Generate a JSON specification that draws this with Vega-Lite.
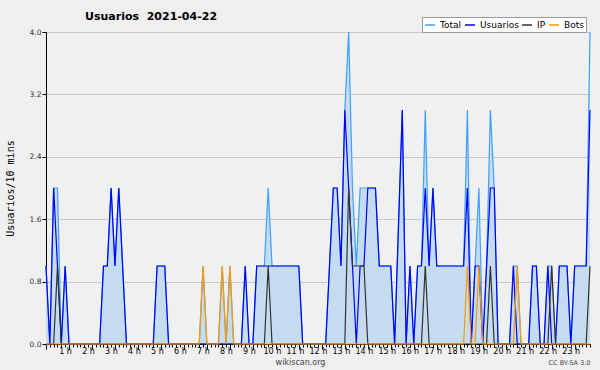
{
"$schema": "https://vega.github.io/schema/vega-lite/v6.json",
"width": 544, "height": 312,
"autosize": {"type": "none"},
"padding": {"left": 46, "top": 32, "right": 10, "bottom": 26},
"background": "#efefef",
"title": {"text": "Usuarios\u00a0 2021-04-22", "frame": "group", "anchor": "start", "dx": 39, "offset": -5, "font": "DejaVu Sans", "fontSize": 11, "fontWeight": "bold", "color": "#000000"},
"config": {"view": {"fill": "#eff0f2", "stroke": null}},
"data": {"values": [
{"i":0,"Total":1,"Usuarios":1,"IP":0,"Bots":0},
{"i":1,"Total":0,"Usuarios":0,"IP":0,"Bots":0},
{"i":2,"Total":2,"Usuarios":2,"IP":0,"Bots":0},
{"i":3,"Total":2,"Usuarios":1,"IP":1,"Bots":0},
{"i":4,"Total":0,"Usuarios":0,"IP":0,"Bots":0},
{"i":5,"Total":1,"Usuarios":1,"IP":0,"Bots":0},
{"i":6,"Total":0,"Usuarios":0,"IP":0,"Bots":0},
{"i":7,"Total":0,"Usuarios":0,"IP":0,"Bots":0},
{"i":8,"Total":0,"Usuarios":0,"IP":0,"Bots":0},
{"i":9,"Total":0,"Usuarios":0,"IP":0,"Bots":0},
{"i":10,"Total":0,"Usuarios":0,"IP":0,"Bots":0},
{"i":11,"Total":0,"Usuarios":0,"IP":0,"Bots":0},
{"i":12,"Total":0,"Usuarios":0,"IP":0,"Bots":0},
{"i":13,"Total":0,"Usuarios":0,"IP":0,"Bots":0},
{"i":14,"Total":0,"Usuarios":0,"IP":0,"Bots":0},
{"i":15,"Total":1,"Usuarios":1,"IP":0,"Bots":0},
{"i":16,"Total":1,"Usuarios":1,"IP":0,"Bots":0},
{"i":17,"Total":2,"Usuarios":2,"IP":0,"Bots":0},
{"i":18,"Total":1,"Usuarios":1,"IP":0,"Bots":0},
{"i":19,"Total":2,"Usuarios":2,"IP":0,"Bots":0},
{"i":20,"Total":1,"Usuarios":1,"IP":0,"Bots":0},
{"i":21,"Total":0,"Usuarios":0,"IP":0,"Bots":0},
{"i":22,"Total":0,"Usuarios":0,"IP":0,"Bots":0},
{"i":23,"Total":0,"Usuarios":0,"IP":0,"Bots":0},
{"i":24,"Total":0,"Usuarios":0,"IP":0,"Bots":0},
{"i":25,"Total":0,"Usuarios":0,"IP":0,"Bots":0},
{"i":26,"Total":0,"Usuarios":0,"IP":0,"Bots":0},
{"i":27,"Total":0,"Usuarios":0,"IP":0,"Bots":0},
{"i":28,"Total":0,"Usuarios":0,"IP":0,"Bots":0},
{"i":29,"Total":1,"Usuarios":1,"IP":0,"Bots":0},
{"i":30,"Total":1,"Usuarios":1,"IP":0,"Bots":0},
{"i":31,"Total":1,"Usuarios":1,"IP":0,"Bots":0},
{"i":32,"Total":0,"Usuarios":0,"IP":0,"Bots":0},
{"i":33,"Total":0,"Usuarios":0,"IP":0,"Bots":0},
{"i":34,"Total":0,"Usuarios":0,"IP":0,"Bots":0},
{"i":35,"Total":0,"Usuarios":0,"IP":0,"Bots":0},
{"i":36,"Total":0,"Usuarios":0,"IP":0,"Bots":0},
{"i":37,"Total":0,"Usuarios":0,"IP":0,"Bots":0},
{"i":38,"Total":0,"Usuarios":0,"IP":0,"Bots":0},
{"i":39,"Total":0,"Usuarios":0,"IP":0,"Bots":0},
{"i":40,"Total":0,"Usuarios":0,"IP":0,"Bots":0},
{"i":41,"Total":1,"Usuarios":0,"IP":0,"Bots":1},
{"i":42,"Total":0,"Usuarios":0,"IP":0,"Bots":0},
{"i":43,"Total":0,"Usuarios":0,"IP":0,"Bots":0},
{"i":44,"Total":0,"Usuarios":0,"IP":0,"Bots":0},
{"i":45,"Total":0,"Usuarios":0,"IP":0,"Bots":0},
{"i":46,"Total":1,"Usuarios":0,"IP":0,"Bots":1},
{"i":47,"Total":0,"Usuarios":0,"IP":0,"Bots":0},
{"i":48,"Total":1,"Usuarios":0,"IP":0,"Bots":1},
{"i":49,"Total":0,"Usuarios":0,"IP":0,"Bots":0},
{"i":50,"Total":0,"Usuarios":0,"IP":0,"Bots":0},
{"i":51,"Total":0,"Usuarios":0,"IP":0,"Bots":0},
{"i":52,"Total":1,"Usuarios":1,"IP":0,"Bots":0},
{"i":53,"Total":0,"Usuarios":0,"IP":0,"Bots":0},
{"i":54,"Total":0,"Usuarios":0,"IP":0,"Bots":0},
{"i":55,"Total":1,"Usuarios":1,"IP":0,"Bots":0},
{"i":56,"Total":1,"Usuarios":1,"IP":0,"Bots":0},
{"i":57,"Total":1,"Usuarios":1,"IP":0,"Bots":0},
{"i":58,"Total":2,"Usuarios":1,"IP":1,"Bots":0},
{"i":59,"Total":1,"Usuarios":1,"IP":0,"Bots":0},
{"i":60,"Total":1,"Usuarios":1,"IP":0,"Bots":0},
{"i":61,"Total":1,"Usuarios":1,"IP":0,"Bots":0},
{"i":62,"Total":1,"Usuarios":1,"IP":0,"Bots":0},
{"i":63,"Total":1,"Usuarios":1,"IP":0,"Bots":0},
{"i":64,"Total":1,"Usuarios":1,"IP":0,"Bots":0},
{"i":65,"Total":1,"Usuarios":1,"IP":0,"Bots":0},
{"i":66,"Total":1,"Usuarios":1,"IP":0,"Bots":0},
{"i":67,"Total":0,"Usuarios":0,"IP":0,"Bots":0},
{"i":68,"Total":0,"Usuarios":0,"IP":0,"Bots":0},
{"i":69,"Total":0,"Usuarios":0,"IP":0,"Bots":0},
{"i":70,"Total":0,"Usuarios":0,"IP":0,"Bots":0},
{"i":71,"Total":0,"Usuarios":0,"IP":0,"Bots":0},
{"i":72,"Total":0,"Usuarios":0,"IP":0,"Bots":0},
{"i":73,"Total":0,"Usuarios":0,"IP":0,"Bots":0},
{"i":74,"Total":1,"Usuarios":1,"IP":0,"Bots":0},
{"i":75,"Total":2,"Usuarios":2,"IP":0,"Bots":0},
{"i":76,"Total":2,"Usuarios":2,"IP":0,"Bots":0},
{"i":77,"Total":1,"Usuarios":1,"IP":0,"Bots":0},
{"i":78,"Total":3,"Usuarios":3,"IP":0,"Bots":0},
{"i":79,"Total":4,"Usuarios":2,"IP":2,"Bots":0},
{"i":80,"Total":2,"Usuarios":1,"IP":1,"Bots":0},
{"i":81,"Total":1,"Usuarios":0,"IP":1,"Bots":0},
{"i":82,"Total":2,"Usuarios":1,"IP":1,"Bots":0},
{"i":83,"Total":2,"Usuarios":1,"IP":1,"Bots":0},
{"i":84,"Total":2,"Usuarios":2,"IP":0,"Bots":0},
{"i":85,"Total":2,"Usuarios":2,"IP":0,"Bots":0},
{"i":86,"Total":2,"Usuarios":2,"IP":0,"Bots":0},
{"i":87,"Total":1,"Usuarios":1,"IP":0,"Bots":0},
{"i":88,"Total":1,"Usuarios":1,"IP":0,"Bots":0},
{"i":89,"Total":1,"Usuarios":1,"IP":0,"Bots":0},
{"i":90,"Total":1,"Usuarios":1,"IP":0,"Bots":0},
{"i":91,"Total":0,"Usuarios":0,"IP":0,"Bots":0},
{"i":92,"Total":1.5,"Usuarios":1.5,"IP":0,"Bots":0},
{"i":93,"Total":3,"Usuarios":3,"IP":0,"Bots":0},
{"i":94,"Total":0,"Usuarios":0,"IP":0,"Bots":0},
{"i":95,"Total":1,"Usuarios":1,"IP":0,"Bots":0},
{"i":96,"Total":0,"Usuarios":0,"IP":0,"Bots":0},
{"i":97,"Total":1,"Usuarios":1,"IP":0,"Bots":0},
{"i":98,"Total":1,"Usuarios":1,"IP":0,"Bots":0},
{"i":99,"Total":3,"Usuarios":2,"IP":1,"Bots":0},
{"i":100,"Total":1,"Usuarios":1,"IP":0,"Bots":0},
{"i":101,"Total":2,"Usuarios":2,"IP":0,"Bots":0},
{"i":102,"Total":1,"Usuarios":1,"IP":0,"Bots":0},
{"i":103,"Total":1,"Usuarios":1,"IP":0,"Bots":0},
{"i":104,"Total":1,"Usuarios":1,"IP":0,"Bots":0},
{"i":105,"Total":1,"Usuarios":1,"IP":0,"Bots":0},
{"i":106,"Total":1,"Usuarios":1,"IP":0,"Bots":0},
{"i":107,"Total":1,"Usuarios":1,"IP":0,"Bots":0},
{"i":108,"Total":1,"Usuarios":1,"IP":0,"Bots":0},
{"i":109,"Total":1,"Usuarios":1,"IP":0,"Bots":0},
{"i":110,"Total":3,"Usuarios":2,"IP":0,"Bots":1},
{"i":111,"Total":0,"Usuarios":0,"IP":0,"Bots":0},
{"i":112,"Total":1,"Usuarios":1,"IP":0,"Bots":0},
{"i":113,"Total":2,"Usuarios":1,"IP":0,"Bots":1},
{"i":114,"Total":0,"Usuarios":0,"IP":0,"Bots":0},
{"i":115,"Total":1,"Usuarios":1,"IP":0,"Bots":0},
{"i":116,"Total":3,"Usuarios":2,"IP":1,"Bots":0},
{"i":117,"Total":2,"Usuarios":2,"IP":0,"Bots":0},
{"i":118,"Total":0,"Usuarios":0,"IP":0,"Bots":0},
{"i":119,"Total":0,"Usuarios":0,"IP":0,"Bots":0},
{"i":120,"Total":0,"Usuarios":0,"IP":0,"Bots":0},
{"i":121,"Total":0,"Usuarios":0,"IP":0,"Bots":0},
{"i":122,"Total":1,"Usuarios":1,"IP":0,"Bots":0},
{"i":123,"Total":1,"Usuarios":0,"IP":0,"Bots":1},
{"i":124,"Total":0,"Usuarios":0,"IP":0,"Bots":0},
{"i":125,"Total":0,"Usuarios":0,"IP":0,"Bots":0},
{"i":126,"Total":0,"Usuarios":0,"IP":0,"Bots":0},
{"i":127,"Total":1,"Usuarios":1,"IP":0,"Bots":0},
{"i":128,"Total":1,"Usuarios":1,"IP":0,"Bots":0},
{"i":129,"Total":0,"Usuarios":0,"IP":0,"Bots":0},
{"i":130,"Total":0,"Usuarios":0,"IP":0,"Bots":0},
{"i":131,"Total":1,"Usuarios":1,"IP":0,"Bots":0},
{"i":132,"Total":1,"Usuarios":0,"IP":1,"Bots":0},
{"i":133,"Total":0,"Usuarios":0,"IP":0,"Bots":0},
{"i":134,"Total":1,"Usuarios":1,"IP":0,"Bots":0},
{"i":135,"Total":1,"Usuarios":1,"IP":0,"Bots":0},
{"i":136,"Total":1,"Usuarios":1,"IP":0,"Bots":0},
{"i":137,"Total":0,"Usuarios":0,"IP":0,"Bots":0},
{"i":138,"Total":1,"Usuarios":1,"IP":0,"Bots":0},
{"i":139,"Total":1,"Usuarios":1,"IP":0,"Bots":0},
{"i":140,"Total":1,"Usuarios":1,"IP":0,"Bots":0},
{"i":141,"Total":1,"Usuarios":1,"IP":0,"Bots":0},
{"i":142,"Total":4,"Usuarios":3,"IP":1,"Bots":0}
]},
"layer": [
{
"mark": {"type": "area", "color": "#c5dcf0", "opacity": 1},
"encoding": {
"x": {"field": "i", "type": "quantitative", "scale": {"domain": [0, 142], "nice": false, "zero": false},
"axis": {"values": [0,1,2,3,4,5,6,7,8,9,10,11,12,13,14,15,16,17,18,19,20,21,22,23,24,25,26,27,28,29,30,31,32,33,34,35,36,37,38,39,40,41,42,43,44,45,46,47,48,49,50,51,52,53,54,55,56,57,58,59,60,61,62,63,64,65,66,67,68,69,70,71,72,73,74,75,76,77,78,79,80,81,82,83,84,85,86,87,88,89,90,91,92,93,94,95,96,97,98,99,100,101,102,103,104,105,106,107,108,109,110,111,112,113,114,115,116,117,118,119,120,121,122,123,124,125,126,127,128,129,130,131,132,133,134,135,136,137,138,139,140,141,142],
"labelExpr": "datum.value % 6 == 0 && datum.value > 0 ? (datum.value / 6) + ' h' : ''",
"labelFont": "DejaVu Sans", "labelFontSize": 8, "labelColor": "#000000", "labelPadding": -2, "labelOffset": -4, "labelOverlap": false, "labelFlush": false,
"tickSize": {"condition": {"test": "datum.value % 6 == 0", "value": 5}, "value": 3},
"tickColor": "#000000", "domainColor": "#000000", "grid": false,
"title": "wikiscan.org", "titleFont": "DejaVu Sans", "titleFontSize": 8, "titleFontWeight": "normal", "titleColor": "#444444", "titleX": 254, "titleY": 14, "titleBaseline": "top", "titleAnchor": "middle"}},
"y": {"field": "Total", "type": "quantitative", "scale": {"domain": [0, 4], "nice": false},
"axis": {"values": [0,0.2,0.4,0.6,0.8,1,1.2,1.4,1.6,1.8,2,2.2,2.4,2.6,2.8,3,3.2,3.4,3.6,3.8,4],
"labelExpr": "round(datum.value * 10) % 8 == 0 ? format(datum.value, '.1f') : ''",
"labelFont": "DejaVu Sans", "labelFontSize": 7.5, "labelColor": "#333333", "labelPadding": 1,
"tickSize": {"condition": {"test": "round(datum.value * 10) % 8 == 0", "value": 4}, "value": 3},
"tickColor": "#000000", "domainColor": "#000000",
"grid": true, "gridColor": "#c8c8c8", "gridOpacity": {"condition": {"test": "round(datum.value * 10) % 8 == 0", "value": 1}, "value": 0},
"title": "Usuarios/10 mins", "titleFont": "DejaVu Sans Mono", "titleFontSize": 10, "titleFontWeight": "normal", "titleColor": "#000000", "titleX": -36, "titleY": 156, "titleAngle": 270, "titleAlign": "center", "titleBaseline": "middle"}}
}
},
{
"transform": [{"fold": ["Total", "Usuarios", "IP", "Bots"], "as": ["serie", "v"]}],
"mark": {"type": "line", "strokeWidth": 1.2},
"encoding": {
"x": {"field": "i", "type": "quantitative", "axis": {"orient": "bottom", "labels": false, "ticks": false, "domain": false, "grid": false, "title": "CC BY-SA 3.0", "titleFont": "DejaVu Sans", "titleFontSize": 6.5, "titleFontWeight": "normal", "titleColor": "#444444", "titleX": 523, "titleY": 15, "titleBaseline": "top", "titleAnchor": "middle"}},
"y": {"field": "v", "type": "quantitative"},
"color": {"field": "serie", "type": "nominal", "sort": ["Total", "Usuarios", "IP", "Bots"],
"scale": {"domain": ["Total", "Usuarios", "IP", "Bots"], "range": ["#3fa0ff", "#0000ff", "#333333", "#ff9900"]},
"legend": {"orient": "none", "legendX": 376, "legendY": -15, "direction": "horizontal", "columns": 4, "gridAlign": "none", "title": null,
"fillColor": "#ffffff", "strokeColor": "#999999", "padding": 2, "columnPadding": 0, "rowPadding": 0,
"symbolType": "stroke", "symbolSize": 100, "symbolStrokeWidth": 1.5, "labelOffset": 4,
"labelFont": "DejaVu Sans", "labelFontSize": 9, "labelColor": "#000000"}}
}
}
],
"resolve": {"axis": {"x": "independent"}}
}
